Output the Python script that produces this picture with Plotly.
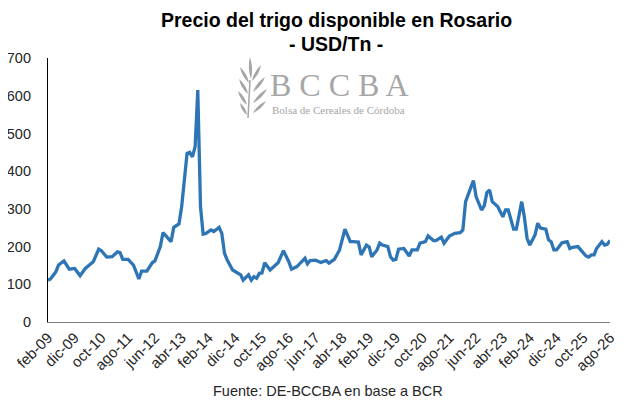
import pandas as pd
import plotly.graph_objects as go

# Precio del trigo disponible en Rosario (USD/Tn), lectura del gráfico
fechas = [
    "2009-02", "2009-03", "2009-05", "2009-06", "2009-08", "2009-10", "2009-12",
    "2010-02", "2010-04", "2010-06", "2010-07", "2010-09", "2010-10", "2010-12",
    "2011-02", "2011-04", "2011-05", "2011-06", "2011-08", "2011-10", "2011-12",
    "2012-01", "2012-03", "2012-05", "2012-06", "2012-08", "2012-09", "2012-12",
    "2013-01", "2013-03", "2013-04", "2013-06", "2013-07", "2013-08", "2013-09",
    "2013-10", "2013-11", "2013-12", "2014-01", "2014-03", "2014-04", "2014-06",
    "2014-07", "2014-08", "2014-09", "2014-11", "2015-01", "2015-02", "2015-03",
    "2015-05", "2015-06", "2015-07", "2015-08", "2015-09", "2015-10", "2015-11",
    "2016-01", "2016-03", "2016-04", "2016-06", "2016-08", "2016-09", "2016-11",
    "2016-12", "2017-02", "2017-03", "2017-04", "2017-06", "2017-08", "2017-10",
    "2017-11", "2018-01", "2018-03", "2018-05", "2018-07", "2018-08", "2018-10",
    "2018-11", "2019-01", "2019-02", "2019-03", "2019-05", "2019-06", "2019-07",
    "2019-09", "2019-10", "2019-11", "2019-12", "2020-01", "2020-03", "2020-05",
    "2020-06", "2020-08", "2020-09", "2020-11", "2020-12", "2021-02", "2021-03",
    "2021-05", "2021-06", "2021-08", "2021-10", "2021-12", "2022-01", "2022-02",
    "2022-05", "2022-06", "2022-08", "2022-09", "2022-10", "2022-11", "2022-12",
    "2023-02", "2023-03", "2023-04", "2023-05", "2023-06", "2023-08", "2023-09",
    "2023-11", "2023-12", "2024-01", "2024-02", "2024-04", "2024-05", "2024-06",
    "2024-08", "2024-09", "2024-10", "2024-11", "2024-12", "2025-02", "2025-04",
    "2025-05", "2025-06", "2025-08", "2025-09", "2025-11", "2025-12", "2026-01",
    "2026-02", "2026-03", "2026-05", "2026-06", "2026-07", "2026-08",
]
precios = [
    111, 114, 133, 151, 162, 140, 142,
    123, 142, 154, 160, 193, 189, 172,
    173, 186, 184, 166, 166, 151, 114,
    135, 135, 157, 162, 200, 237, 213,
    251, 260, 306, 447, 450, 438, 465,
    615, 306, 233, 235, 244, 240, 251,
    235, 182, 164, 138, 129, 125, 111,
    125, 111, 120, 116, 129, 130, 157,
    138, 151, 157, 189, 160, 140, 147,
    154, 169, 154, 163, 164, 158, 163,
    156, 166, 191, 246, 213, 213, 212,
    178, 204, 199, 173, 191, 209, 204,
    200, 173, 164, 166, 193, 195, 175,
    191, 191, 209, 213, 228, 216, 216,
    225, 209, 228, 235, 237, 244, 319,
    375, 332, 297, 308, 343, 350, 319,
    306, 293, 279, 297, 297, 246, 246,
    319, 279, 222, 204, 231, 262, 249,
    246, 218, 213, 191, 191, 210, 213,
    195, 198, 200, 191, 175, 172, 178,
    178, 195, 213, 204, 206, 216,
]

# Etiquetas del eje X (cada 10 meses)
ticks_fechas = [
    "2009-02", "2009-12", "2010-10", "2011-08", "2012-06", "2013-04", "2014-02",
    "2014-12", "2015-10", "2016-08", "2017-06", "2018-04", "2019-02", "2019-12",
    "2020-10", "2021-08", "2022-06", "2023-04", "2024-02", "2024-12", "2025-10",
    "2026-08",
]
ticks_texto = [
    "feb-09", "dic-09", "oct-10", "ago-11", "jun-12", "abr-13", "feb-14",
    "dic-14", "oct-15", "ago-16", "jun-17", "abr-18", "feb-19", "dic-19",
    "oct-20", "ago-21", "jun-22", "abr-23", "feb-24", "dic-24", "oct-25",
    "ago-26",
]

x = pd.to_datetime(fechas, format="%Y-%m")
tickvals = pd.to_datetime(ticks_fechas, format="%Y-%m")

# la página deja 8px de margen alrededor del gráfico
OFF = 8
W, H = 640 - OFF, 410 - OFF
# área de trazado en pixeles de la página
P_L, P_R, P_T, P_B = 48, 610, 58, 322
ML, MT = P_L - OFF, P_T - OFF
MR, MB = W - (P_R - OFF), H - (P_B - OFF)
PW, PH = P_R - P_L, P_B - P_T

fig = go.Figure()
fig.add_trace(go.Scatter(
    x=x, y=precios, mode="lines",
    line=dict(color="#2E75B6", width=3.3),
    hoverinfo="x+y", showlegend=False,
))


def px(xp, yp):
    # pixeles de la página -> coordenadas "paper"
    return (xp - P_L) / PW, (P_B - yp) / PH


def hoja(bx, by, tx, ty, w):
    mx, my = (bx + tx) / 2, (by + ty) / 2
    dx, dy = tx - bx, ty - by
    n = (dx ** 2 + dy ** 2) ** 0.5
    nx, ny = -dy / n * w, dx / n * w
    pts = [px(bx, by), px(mx + nx, my + ny), px(tx, ty), px(mx - nx, my - ny)]
    return ("M {0[0]:.4f},{0[1]:.4f} Q {1[0]:.4f},{1[1]:.4f} {2[0]:.4f},{2[1]:.4f} "
            "Q {3[0]:.4f},{3[1]:.4f} {0[0]:.4f},{0[1]:.4f} Z").format(*pts)


def texto(xp, yp, t, size, color, family=None, anchor="center"):
    ax, ay = px(xp, yp)
    f = dict(size=size, color=color)
    if family:
        f["family"] = family
    fig.add_annotation(x=ax, y=ay, xref="paper", yref="paper", text=t,
                       showarrow=False, xanchor=anchor, yanchor="middle",
                       borderpad=0, font=f)


# --- logo de fondo (espiga + texto) ---
gris_logo = "#a6a6a6"
hojas = [
    (251, 79, 250, 57, 3.2),
    (249, 83, 240, 67, 3.2), (252, 81, 261, 65, 3.2),
    (248, 94, 239, 79, 3.2), (253, 92, 265, 77, 3.2),
    (247, 105, 238, 91, 3.2), (253, 103, 267, 89, 3.2),
    (247, 115, 240, 103, 3.0), (253, 113, 266, 101, 3.0),
]
for bx, by, tx, ty, w in hojas:
    fig.add_shape(type="path", xref="paper", yref="paper", path=hoja(bx, by, tx, ty, w),
                  fillcolor=gris_logo, line=dict(width=0), layer="below")
x0, y0 = px(250, 80)
x1, y1 = px(248, 118)
fig.add_shape(type="line", xref="paper", yref="paper", x0=x0, y0=y0, x1=x1, y1=y1,
              line=dict(color=gris_logo, width=1.5), layer="below")

serif = "Liberation Serif, Times New Roman, serif"
texto(269, 85, "B C C B A", 32, gris_logo, serif, anchor="left")
texto(271, 110, "Bolsa de Cereales de Córdoba", 11, gris_logo, serif, anchor="left")

# título y fuente
texto(336, 20, "<b>Precio del trigo disponible en Rosario</b>", 19.5, "black")
texto(336, 44, "<b>- USD/Tn -</b>", 19.5, "black")
texto(328, 391, "Fuente: DE-BCCBA en base a BCR", 14.5, "#262626")

fig.update_layout(
    width=W, height=H,
    margin=dict(l=ML, r=MR, t=MT, b=MB, autoexpand=False),
    paper_bgcolor="white", plot_bgcolor="white",
    font=dict(family="Liberation Sans, Arial, sans-serif", size=14, color="#262626"),
    xaxis=dict(
        range=[x[0], x[-1]], automargin=False,
        tickmode="array", tickvals=tickvals, ticktext=ticks_texto,
        tickangle=-45, showgrid=False, zeroline=False,
        showline=True, linecolor="#7f7f7f", linewidth=1.2,
        ticks="", tickfont=dict(size=15),
    ),
    yaxis=dict(
        range=[0, 700], dtick=100, showgrid=False, zeroline=False, automargin=False,
        showline=True, linecolor="black", linewidth=1.2,
        ticks="", ticklabelstandoff=13, tickfont=dict(size=14.5),
    ),
)

fig.write_html("out.html")
